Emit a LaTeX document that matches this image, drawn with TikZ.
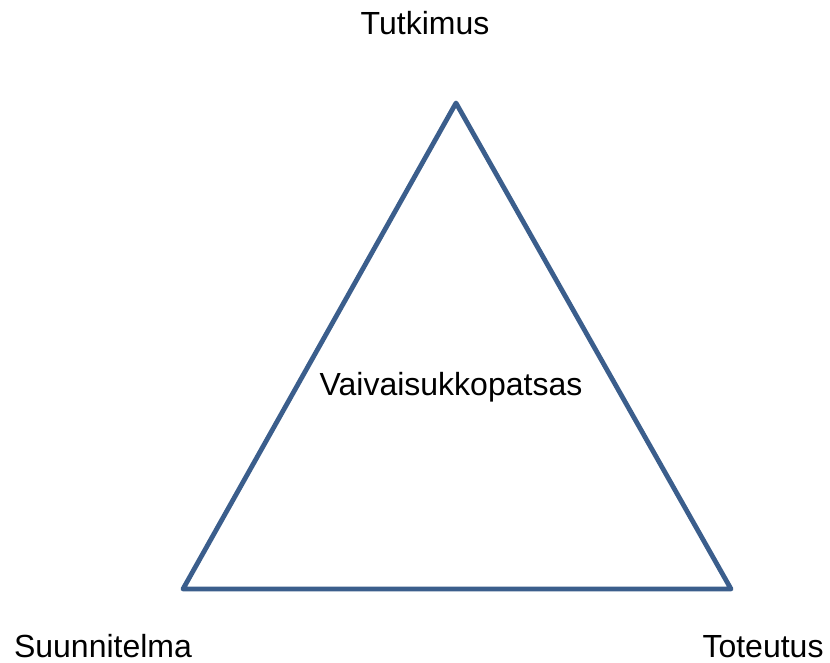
\documentclass[tikz,border=0pt]{standalone}
\usepackage{fontspec}
\setmainfont{Liberation Sans}
\usetikzlibrary{positioning}
\definecolor{edgeblue}{HTML}{3B5E8C}

\begin{document}
\begin{tikzpicture}[x=0.5pt,y=-0.5pt,
    side/.style={draw=edgeblue,line width=2.4pt,line join=round},
    lbl/.style={inner sep=0pt,anchor=base,font=\fontsize{16}{19}\selectfont}]
    \useasboundingbox (0,0) rectangle (830,663);
    \coordinate (top) at (456,103);
    \coordinate (left) at (183,589);
    \coordinate (right) at (731,589);
    \draw[side] (top) -- (right) -- (left) -- cycle;
    \node[lbl] (tutk) at (425,35) {Tutkimus};
    \node[lbl] (mid) at (451,395) {Vaivaisukkopatsas};
    \node[lbl] (suun) at (103,657) {Suunnitelma};
    \node[lbl] (tote) at (763,657) {Toteutus};
\end{tikzpicture}
\end{document}
